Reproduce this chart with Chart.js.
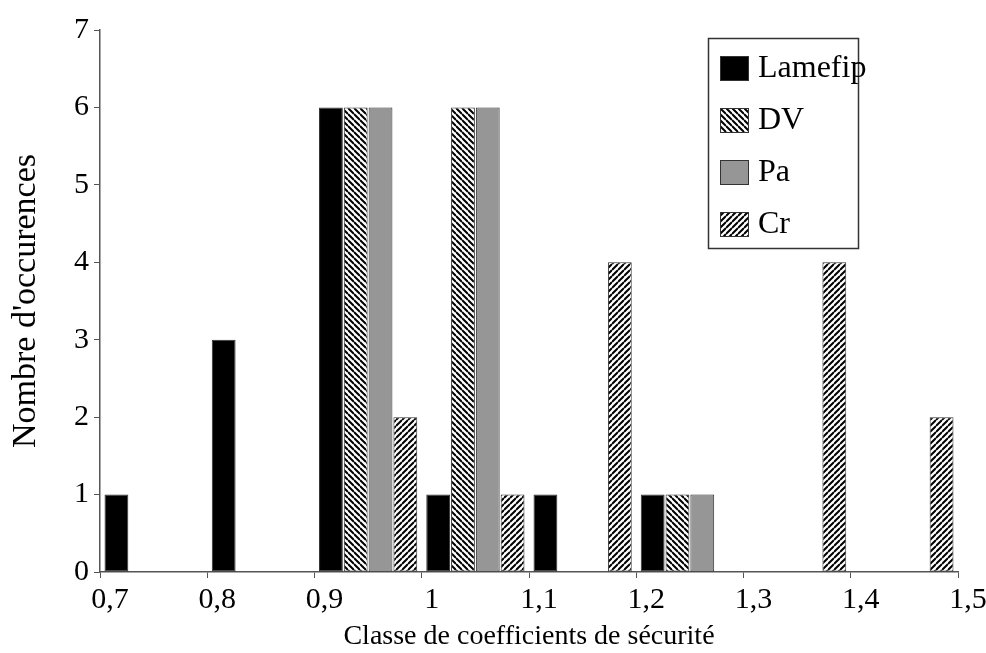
<!DOCTYPE html>
<html>
<head>
<meta charset="utf-8">
<script src="https://cdn.jsdelivr.net/npm/chart.js@4"></script>
<style>
html, body { margin: 0; padding: 0; background: #fff; }
#wrap { width: 986px; height: 653px; }
</style>
</head>
<body>
<div id="wrap"><canvas id="barChart"></canvas></div>
<script>
// classes (one group of bars per class) and axis tick labels
const classes = ['0,7', '0,8', '0,9', '1', '1,1', '1,2', '1,3', '1,4'];
const tickLabels = ['0,7', '0,8', '0,9', '1', '1,1', '1,2', '1,3', '1,4', '1,5'];

const lamefip = [1, 3, 6, 1, 1, 1, 0, 0];
const dv      = [0, 0, 6, 6, 0, 1, 0, 0];
const pa      = [0, 0, 6, 6, 0, 1, 0, 0];
const cr      = [0, 0, 2, 1, 4, 0, 4, 2];

const serif = '"Liberation Serif", "DejaVu Serif", serif';

function hatch(dir) {
  const s = 6;
  const c = document.createElement('canvas');
  c.width = s; c.height = s;
  const g = c.getContext('2d');
  g.fillStyle = '#fff';
  g.fillRect(0, 0, s, s);
  g.strokeStyle = '#000';
  g.lineWidth = 2;
  g.beginPath();
  for (const k of [-s, 0, s]) {
    if (dir === 'back') { g.moveTo(0, k); g.lineTo(s, k + s); }
    else { g.moveTo(0, k + s); g.lineTo(s, k); }
  }
  g.stroke();
  return g.createPattern(c, 'repeat');
}

const boxLegend = {
  id: 'boxLegend',
  afterDraw(chart) {
    const g = chart.ctx;
    g.save();
    g.strokeStyle = '#333';
    g.lineWidth = 1.5;
    g.strokeRect(708.5, 38.5, 150, 210);
    g.font = '32px ' + serif;
    g.textBaseline = 'middle';
    chart.data.datasets.forEach((ds, i) => {
      const y = 68 + i * 52;
      g.fillStyle = ds.backgroundColor;
      g.fillRect(720, y - 12, 28, 24);
      g.lineWidth = 1;
      g.strokeRect(720.5, y - 11.5, 28, 24);
      g.fillStyle = '#000';
      g.fillText(ds.label, 758, y + 1);
    });
    g.restore();
  }
};

const nz = arr => arr.map(v => v || null);

const ctx = document.getElementById('barChart');
new Chart(ctx, {
  type: 'bar',
  data: {
    labels: classes,
    datasets: [
      { label: 'Lamefip', data: nz(lamefip), backgroundColor: '#000' },
      { label: 'DV', data: nz(dv), backgroundColor: hatch('back') },
      { label: 'Pa', data: nz(pa), backgroundColor: '#969696' },
      { label: 'Cr', data: nz(cr), backgroundColor: hatch('fwd') }
    ].map(d => Object.assign(d, {
      borderColor: '#333',
      borderWidth: 1,
      borderSkipped: false,
      categoryPercentage: 0.925,
      barPercentage: 0.96
    }))
  },
  options: {
    responsive: true,
    maintainAspectRatio: false,
    animation: false,
    layout: { padding: { top: 30, right: 28, left: 0, bottom: 0 } },
    plugins: {
      legend: { display: false },
      tooltip: { enabled: false }
    },
    scales: {
      x: { display: false, offset: true },
      xt: {
        type: 'linear',
        position: 'bottom',
        offset: false,
        min: 0,
        max: 8,
        ticks: {
          stepSize: 1,
          autoSkip: false,
          maxRotation: 0,
          padding: 4,
          labelOffset: 10,
          color: '#000',
          font: { family: serif, size: 30 },
          callback: v => tickLabels[v]
        },
        grid: { offset: false, drawOnChartArea: false, tickLength: 6, color: '#555' },
        border: { color: '#555', width: 1.5 },
        title: {
          display: true,
          text: 'Classe de coefficients de sécurité',
          color: '#000',
          font: { family: serif, size: 28 },
          padding: { top: 0, bottom: 0 }
        },
        afterFit: s => { s.height = 81; }
      },
      y: {
        min: 0,
        max: 7,
        ticks: {
          stepSize: 1,
          padding: 5,
          color: '#000',
          font: { family: serif, size: 30 }
        },
        grid: { drawOnChartArea: false, tickLength: 6, color: '#555' },
        border: { color: '#555', width: 1.5 },
        title: {
          display: true,
          text: "Nombre d'occurences",
          color: '#000',
          font: { family: serif, size: 34 },
          padding: { top: 6, bottom: 4 }
        },
        afterFit: s => { s.width = 100; }
      }
    }
  },
  plugins: [boxLegend]
});
</script>
</body>
</html>
